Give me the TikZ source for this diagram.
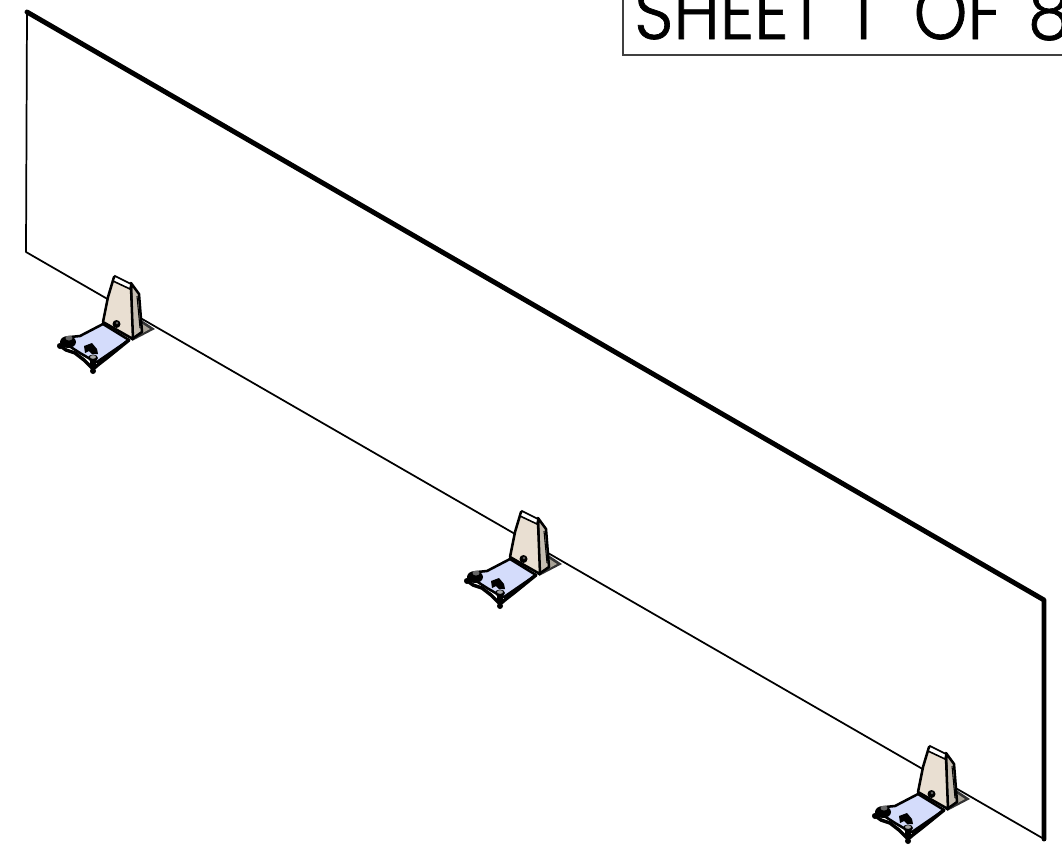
\documentclass[tikz,border=0pt]{standalone}
\usepackage{fontspec}
\setmainfont{Poppins Light}[FakeBold=0.9,FakeStretch=0.9]
\definecolor{cream}{HTML}{E9DFD2}
\definecolor{baseblue}{HTML}{D4DCFB}
\definecolor{sidegrey}{HTML}{A8A296}
\tikzset{
  panelthin/.style={line width=1.3pt,line cap=round,line join=round},
  panelthick/.style={line width=3.7pt,line cap=round,line join=round},
  outl/.style={draw=black,line width=1.9pt,line join=round},
  pics/standfoot/.style={code={
    % rear flange right of the upright
    \fill[black!80] (140,19) -- (155,29) -- (132,41) -- cycle;
    \fill[sidegrey] (141,23) -- (150,29) -- (137,36) -- cycle;
    % base plate
    \draw[outl,fill=baseblue] (103,24) -- (129,40) -- (97,62) -- (92,60) -- (80,53) -- (66,44) -- (70,37) -- (80,36) -- cycle;
    % thick front edges
    \draw[black,line width=2.6pt,line cap=round,line join=round] (59,45) -- (66,50) -- (75,53) -- (84,60) -- (93,69) -- (99,64) -- (108,57) -- (129,40);
    % left bolt
    \fill[black] (68,42) ellipse (8 and 6);
    \fill[black!60] (69,38) ellipse (3.5 and 2.5);
    \fill[black] (60,46) circle (3);
    % front bolt
    \draw[black,line width=5pt] (93,60) -- (93,68);
    \fill[black] (93,58) ellipse (5 and 3.5);
    \fill[black!35] (93,57) ellipse (3 and 1.8);
    \fill[black] (93,71) circle (3);
    % central clip
    \fill[black] (84,46) -- (92,43) -- (97,49) -- (98,54) -- (92,54) -- (89,51) -- (85,53) -- cycle;
    % upright side
    \draw[outl,fill=sidegrey!55!cream] (131,-17) -- (139,-6) -- (142,32) -- (132,39) -- cycle;
    \draw[black,line width=0.8pt] (137,-4) -- (140,28);
    % upright face
    \draw[outl,fill=cream] (114,-23) -- (131,-13) -- (133,39) -- (103,22) -- (108,-3) -- cycle;
    % top slot
    \draw[black,line width=1.2pt,fill=white] (115,-24) -- (131,-16) -- (130,-11) -- (113,-19) -- cycle;
    % boss
    \fill[black] (116.5,24) circle (4);
    \fill[black!60] (117,23) circle (1.4);
  }}
}
\begin{document}
\begin{tikzpicture}[x=0.75pt,y=-0.75pt]
\useasboundingbox (0,0) rectangle (1062,846);
\fill[white] (0,0) rectangle (1062,846);
\coordinate (tl) at (27,12);
\coordinate (bl) at (26,252);
\coordinate (tr) at (1044,600);
\coordinate (br) at (1044,839);
\draw[panelthin] (tl) -- (bl) -- (br);
\draw[panelthick] (tl) -- (tr) -- (br);
\pic at (0,300) {standfoot};
\pic at (407,535) {standfoot};
\pic at (815,770) {standfoot};
\begin{scope}
\clip (0,0) rectangle (1062,846);
\draw[line width=1pt,draw=black!75] (623,-20) -- (623,55) -- (1080,55);
\node[anchor=base west,inner sep=0pt,font=\fontsize{57pt}{57pt}\selectfont] (sheet) at (634,39) {SHEET\hspace{7pt} 1\hspace{17pt} OF\hspace{6pt} 8};
\end{scope}
\end{tikzpicture}
\end{document}
